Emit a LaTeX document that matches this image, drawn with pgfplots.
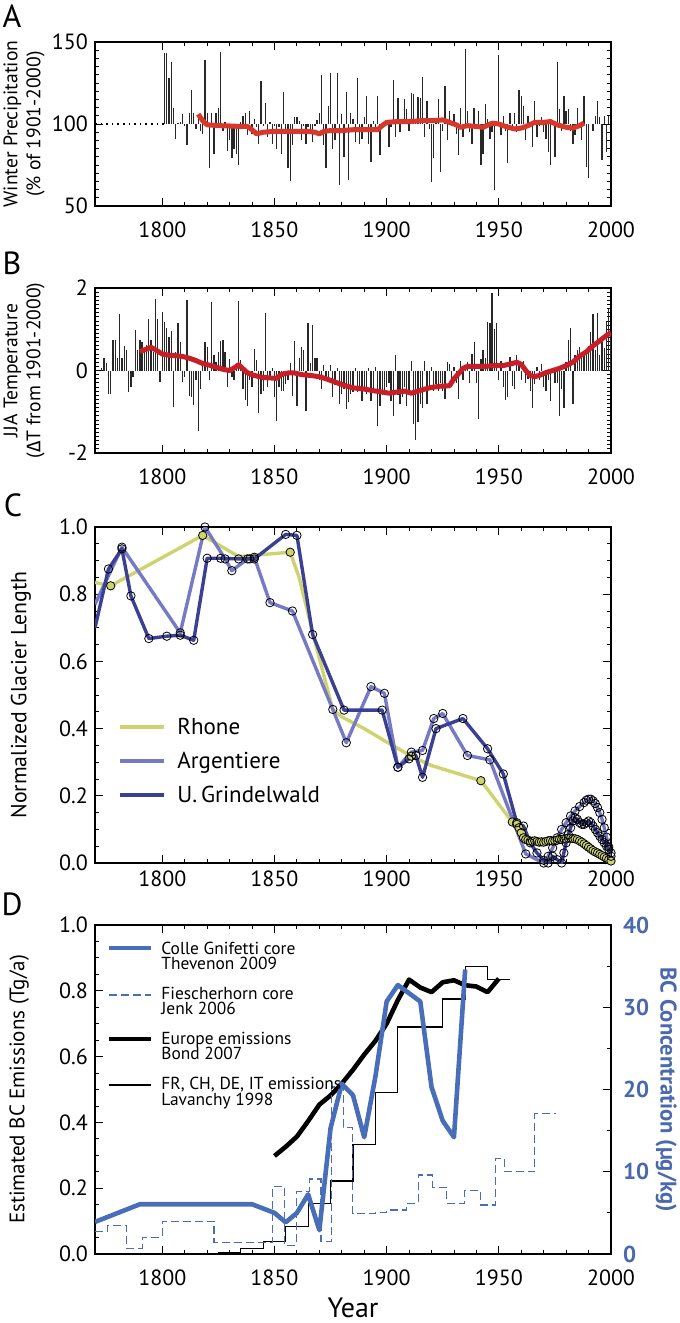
\documentclass[border=0pt]{standalone}
\usepackage{pgfplots}
\pgfplotsset{compat=1.18}
\usepackage{pgfplotstable}
\usepackage{fontspec}
\setmainfont{PT Sans}
\newfontfamily\fira{Fira Sans}

\definecolor{redA}{RGB}{216,56,44}
\definecolor{redB}{RGB}{200,30,40}
\definecolor{barc}{RGB}{40,40,40}
\definecolor{rhone}{RGB}{205,212,110}
\definecolor{argen}{RGB}{118,122,196}
\definecolor{grind}{RGB}{60,64,148}
\definecolor{bcblue}{RGB}{72,110,186}
\definecolor{axblue}{RGB}{74,104,176}

\pgfplotstableread{
yr p
1801 143
1802 143.5
1803 128
1804 137.8
1805 110
1806 91
1807 100.5
1808 101
1809 106
1810 99
1811 87
1812 107
1813 121
1814 107
1815 97
1816 105
1817 96
1818 94
1819 139
1820 107
1821 73
1822 107
1823 82
1824 107
1825 110
1826 144
1827 96
1828 101
1829 83.5
1830 90
1831 79
1832 85
1833 82
1834 75
1835 101
1836 105
1837 107
1838 93
1839 108
1840 94
1841 103
1842 98
1843 88
1844 126
1845 99
1846 113
1847 92
1848 101
1849 88
1850 99
1851 85
1852 98
1853 82
1854 119.5
1855 97
1856 73
1857 65
1858 87
1859 104
1860 104
1861 102
1862 90
1863 99
1864 88
1865 98
1866 97
1867 89
1868 99
1869 102.6
1870 107
1871 130
1872 87
1873 73
1874 111
1875 131
1876 85
1877 90
1878 131
1879 63
1880 106
1881 80
1882 119.5
1883 66
1884 107
1885 103
1886 89
1887 128
1888 88
1889 91
1890 104
1891 117
1892 88
1893 77
1894 102
1895 97
1896 117
1897 81
1898 100
1899 99
1900 101
1901 86
1902 98
1903 127
1904 92
1905 116
1906 95
1907 103
1908 115
1909 109
1910 96
1911 119
1912 118
1913 103
1914 116.5
1915 115.6
1916 128.7
1917 92
1918 114
1919 97
1920 64.6
1921 79
1922 103
1923 115
1924 71
1925 96
1926 123
1927 90
1928 108
1929 99
1930 106
1931 94
1932 81
1933 110
1934 92
1935 146
1936 108
1937 95
1938 88
1939 110
1940 97
1941 108
1942 75
1943 82
1944 112
1945 103
1946 91
1947 95
1948 59.6
1949 99
1950 142
1951 93
1952 105
1953 96
1954 76
1955 107
1956 97
1957 107
1958 95
1959 120.5
1960 117
1961 111
1962 90
1963 105
1964 98
1965 86
1966 114
1967 92
1968 99
1969 104
1970 95
1971 91
1972 83
1973 75
1974 102
1975 80
1976 138
1977 109
1978 96
1979 117
1980 108
1981 109
1982 96
1983 88
1984 93.5
1985 110
1986 99
1987 90
1988 117
1989 74
1990 67
1991 100
1992 96
1993 105
1994 114
1995 104
1996 78
1997 105
1998 83
1999 105
}\precip

\pgfplotstableread{
yr v
1816 106
1818 102
1820 99.5
1825 99
1830 98.8
1835 98.5
1838 98.5
1840 96.5
1842 94
1845 95
1850 95.5
1855 95.5
1860 95.5
1865 95.5
1868 95
1870 94
1872 95.5
1875 96
1880 96
1885 96.5
1890 96.5
1896 96.5
1898 99
1900 101
1905 101.5
1910 101.5
1915 102
1920 102
1925 102.5
1928 101
1931 99.5
1933 98
1936 99
1940 98.5
1943 98
1947 100.5
1950 100
1953 98.5
1957 97
1960 97.5
1963 99
1966 101
1970 101
1973 101.5
1976 99.5
1980 98
1983 97.5
1986 99
1988 100.5
}\precipred

\pgfplotstableread{
yr t
1773 0.05
1774 0.3
1775 0.17
1776 -0.57
1777 -0.57
1778 0.73
1779 0.73
1780 0.3
1781 1.37
1782 0.3
1783 0.6
1784 0.5
1785 -0.51
1786 -0.39
1787 -0.16
1788 0.97
1789 0.5
1790 0.75
1791 0.68
1792 0.54
1793 0.62
1794 1.24
1795 0.75
1796 0.44
1797 1.74
1798 1.24
1799 -0.28
1800 1.41
1801 1.18
1802 1.04
1803 0.81
1804 0.95
1805 -0.88
1806 0.44
1807 1.16
1808 0.68
1809 -0.28
1810 -0.16
1811 1.7
1812 -0.61
1813 -0.65
1814 -0.83
1815 -0.24
1816 -1.47
1817 -0.44
1818 0.17
1819 0.68
1820 0.58
1821 -0.24
1822 1.65
1823 0.38
1824 0.21
1825 0.46
1826 0.71
1827 0.73
1828 0.46
1829 -0.39
1830 0.27
1831 -0.16
1832 -0.24
1833 0.1
1834 1.68
1835 0.25
1836 -0.44
1837 -0.71
1838 -0.86
1839 -0.24
1840 -0.4
1841 0.52
1842 0.25
1843 -1.02
1844 -0.57
1845 -0.49
1846 1.39
1847 -0.39
1848 -0.24
1849 0.05
1850 -0.65
1851 -1.23
1852 -0.4
1853 -0.49
1854 -0.49
1855 -0.32
1856 -0.24
1857 0.17
1858 -0.61
1859 0.71
1860 -0.86
1861 0.3
1862 0.58
1863 0.5
1864 -0.98
1865 1.16
1866 0.17
1867 1.1
1868 0.3
1869 0.3
1870 -0.24
1871 -0.44
1872 0.13
1873 -0.16
1874 -0.24
1875 0.13
1876 -0.65
1877 -0.36
1878 0.05
1879 -0.81
1880 -0.57
1881 -0.44
1882 -0.94
1883 -0.77
1884 -0.57
1885 -0.53
1886 0.05
1887 -0.53
1888 -0.44
1889 -0.73
1890 -0.4
1891 -0.57
1892 0.05
1893 -0.73
1894 -0.53
1895 0.09
1896 -1.35
1897 -0.85
1898 -0.6
1899 -0.5
1900 -0.4
1901 -0.3
1902 -0.75
1903 -1.1
1904 0.37
1905 -0.6
1906 -0.8
1907 -0.65
1908 -0.4
1909 -0.85
1910 -0.5
1911 0.24
1912 -1.3
1913 -1.69
1914 -1.26
1915 -0.81
1916 -0.9
1917 0.24
1918 -0.81
1919 -0.4
1920 0.08
1921 -0.49
1922 -0.33
1923 -0.49
1924 -0.3
1925 -0.5
1926 -0.69
1927 0.2
1928 0.16
1929 -0.41
1930 0.08
1931 -0.3
1932 -0.69
1933 0.24
1934 -0.24
1935 0.12
1936 0.2
1937 -0.3
1938 0.4
1939 0.69
1940 -0.3
1941 -1.18
1942 0.28
1943 0.49
1944 0.3
1945 1.18
1946 1.15
1947 1.89
1948 1.0
1949 1.14
1950 -0.24
1951 0.24
1952 -0.41
1953 -0.72
1954 -0.65
1955 0.33
1956 -0.37
1957 -0.45
1958 0.37
1959 0.2
1960 -0.24
1961 0.24
1962 -0.3
1963 -0.2
1964 -0.5
1965 -0.91
1966 -0.33
1967 0.08
1968 -0.24
1969 0.16
1970 -0.41
1971 -0.49
1972 -0.24
1973 -0.73
1974 0.04
1975 -0.3
1976 -0.3
1977 -1.1
1978 -0.45
1979 -0.9
1980 0.2
1981 0.73
1982 1.04
1983 -0.81
1984 0.37
1985 0.49
1986 0.57
1987 0.41
1988 0.45
1989 0.41
1990 0.6
1991 0.93
1992 1.38
1993 0.5
1994 1.4
1995 0.37
1996 0.69
1997 0.55
1998 1.2
1999 1.5
2000 0.9
}\temp

\pgfplotstableread{
yr v
1790 0.46
1793 0.52
1795 0.56
1797 0.5
1800 0.4
1803 0.37
1806 0.36
1809 0.34
1812 0.3
1815 0.24
1818 0.17
1821 0.13
1824 0.08
1827 0.03
1830 0.0
1832 0.06
1834 0.14
1836 0.04
1838 -0.06
1841 -0.12
1845 -0.17
1848 -0.18
1851 -0.19
1853 -0.1
1856 -0.06
1859 -0.06
1862 -0.1
1866 -0.12
1870 -0.15
1873 -0.2
1877 -0.28
1881 -0.36
1885 -0.42
1890 -0.45
1894 -0.49
1898 -0.52
1901 -0.55
1905 -0.52
1908 -0.5
1911 -0.55
1914 -0.5
1917 -0.45
1920 -0.41
1924 -0.38
1928 -0.37
1930 -0.2
1932 -0.08
1934 0.05
1936 0.1
1940 0.1
1944 0.1
1948 0.12
1952 0.12
1956 0.17
1958 0.2
1960 0.15
1962 0.0
1964 -0.12
1966 -0.15
1968 -0.12
1971 -0.05
1974 0.0
1977 0.05
1980 0.12
1983 0.2
1986 0.35
1989 0.45
1992 0.6
1995 0.72
1998 0.85
2000 0.92
}\tempred

\pgfplotstableread{
yr v
1770 0.835
1777 0.825
1818 0.975
1834 0.912
1857 0.925
1861 0.85
1868 0.66
1876 0.457
1880 0.435
1890 0.40
1900 0.36
1911 0.318
1920 0.29
1942 0.245
1956 0.122
1958 0.115
1959 0.105
1960 0.09
1961 0.075
1962 0.07
1963 0.068
1964 0.065
1965 0.065
1966 0.066
1967 0.064
1968 0.062
1969 0.063
1970 0.062
1971 0.064
1972 0.066
1973 0.067
1974 0.065
1975 0.066
1976 0.068
1977 0.07
1978 0.07
1979 0.072
1980 0.072
1981 0.074
1982 0.074
1983 0.073
1984 0.072
1985 0.07
1986 0.066
1987 0.062
1988 0.057
1989 0.052
1990 0.047
1991 0.042
1992 0.037
1993 0.033
1994 0.03
1995 0.026
1996 0.022
1997 0.018
1998 0.014
1999 0.01
2000 0.006
}\rhoneT

\pgfplotstableread{
yr v
1777 0.825
1818 0.975
1857 0.925
1911 0.318
1942 0.245
1956 0.122
1958 0.115
1959 0.105
1960 0.09
1961 0.075
1962 0.07
1963 0.068
1964 0.065
1965 0.065
1966 0.066
1967 0.064
1968 0.062
1969 0.063
1970 0.062
1971 0.064
1972 0.066
1973 0.067
1974 0.065
1975 0.066
1976 0.068
1977 0.07
1978 0.07
1979 0.072
1980 0.072
1981 0.074
1982 0.074
1983 0.073
1984 0.072
1985 0.07
1986 0.066
1987 0.062
1988 0.057
1989 0.052
1990 0.047
1991 0.042
1992 0.037
1993 0.033
1994 0.03
1995 0.026
1996 0.022
1997 0.018
1998 0.014
1999 0.01
2000 0.006
}\rhoneM

\pgfplotstableread{
yr v
1770 0.77
1782 0.94
1808 0.685
1819 1.0
1828 0.905
1831 0.87
1838 0.905
1841 0.91
1848 0.775
1858 0.75
1876 0.457
1882 0.358
1893 0.525
1899 0.505
1905 0.285
1911 0.33
1916 0.335
1921 0.43
1925 0.445
1936 0.32
1946 0.307
1962 0.027
1970 0.0
1972 0.02
1974 0.045
1976 0.075
1978 0.1
1980 0.12
1982 0.14
1984 0.155
1986 0.168
1988 0.18
1989 0.187
1990 0.19
1991 0.19
1992 0.185
1993 0.177
1994 0.165
1995 0.15
1996 0.13
1997 0.105
1998 0.077
1999 0.048
2000 0.02
}\argT

\pgfplotstableread{
yr v
1770 0.70
1776 0.875
1782 0.935
1786 0.795
1794 0.668
1802 0.675
1808 0.678
1814 0.663
1820 0.907
1826 0.907
1834 0.905
1839 0.905
1841 0.905
1855 0.978
1860 0.975
1867 0.68
1881 0.455
1898 0.455
1905 0.285
1910 0.31
1913 0.32
1916 0.255
1922 0.40
1934 0.43
1945 0.34
1952 0.265
1958 0.12
1961 0.11
1964 0.06
1967 0.03
1970 0.008
1972 0.0
1974 0.02
1976 0.01
1978 0.0
1979 0.03
1980 0.06
1981 0.085
1982 0.105
1983 0.125
1984 0.135
1985 0.13
1986 0.12
1987 0.115
1988 0.115
1989 0.12
1990 0.125
1991 0.12
1992 0.11
1993 0.1
1994 0.09
1995 0.08
1996 0.07
1997 0.06
1998 0.05
1999 0.04
2000 0.03
}\grindT

\pgfplotstableread{
yr c
1770 3.9
1790 6.05
1840 6.05
1850 5.0
1855 3.85
1860 5.0
1865 7.25
1870 2.9
1875 15.3
1880 20.7
1885 19.3
1890 14.2
1895 21.6
1900 30.7
1905 32.7
1910 31.7
1915 30.7
1920 20.3
1925 16.2
1930 14.2
1935 34.6
}\cg

\pgfplotstableread{
yr c
1770 2.72
1775.5 3.44
1784.2 0.68
1791 2.04
1800 4.0
1823 1.4
1849 8.2
1854.3 1.08
1859.7 7.6
1865.5 9.12
1870.7 1.48
1875.5 20.3
1880.6 15.4
1884.8 4.96
1895 5.08
1900 5.36
1909 6.16
1914.2 9.6
1920.6 8.08
1926.8 6.16
1934.7 7.72
1941.9 5.96
1948.6 11.6
1952.5 10.0
1966 17.1
1975.3 17.1
}\fiesch

\pgfplotstableread{
yr e
1850 0.298
1855 0.326
1860 0.357
1865 0.404
1870 0.454
1875 0.482
1880 0.518
1885 0.56
1890 0.606
1895 0.648
1900 0.70
1905 0.772
1910 0.834
1915 0.81
1920 0.796
1925 0.826
1930 0.832
1935 0.817
1940 0.813
1945 0.796
1950 0.837
}\bond

\pgfplotstableread{
yr e
1815 0.0
1825 0.005
1835 0.017
1845 0.038
1855 0.083
1865 0.153
1875 0.222
1885 0.332
1895 0.49
1905 0.69
1925 0.775
1935 0.875
1945 0.835
1955 0.835
}\lav

\pgfplotsset{
  panel/.style={
    scale only axis, width=258pt, anchor=south west,
    xmin=1770, xmax=2000,
    xtick={1800,1850,1900,1950,2000},
    minor x tick num=4,
    tick align=inside,
    major tick length=4pt, minor tick length=2pt,
    axis line style={line width=0.6pt},
    every tick/.append style={line width=0.45pt, black},
    tick label style={font=\fontsize{11}{13}\selectfont},
    /pgf/number format/assume math mode=true,
    /pgf/number format/1000 sep={},
    ylabel style={anchor=center, align=center, font=\fontsize{9.8}{11.5}\selectfont},
  }
}

\begin{document}
\begin{tikzpicture}
\useasboundingbox (0,0) rectangle (340pt,-661.5pt);

% ---------- A ----------
\begin{axis}[panel, at={(47.5pt,-103pt)}, height=82pt,
  ymin=50, ymax=150, ytick={50,100,150}, minor y tick num=9,
  xticklabel style={yshift=-4.5pt},
  ylabel={Winter Precipitation\\(\% of 1901-2000)},
  ylabel style={at={(axis description cs:-0.1376,0.5)}}]
\addplot[black, dotted, line width=0.8pt] coordinates {(1770,100) (1801,100)};
\addplot[barc, line width=0.65pt, quiver={u=0, v=\thisrow{p}-100}] table[x=yr, y expr=100] {\precip};
\addplot[redA, line width=2.5pt, line join=round] table[x=yr, y=v] {\precipred};
\end{axis}

% ---------- B ----------
\begin{axis}[panel, at={(47.5pt,-226.5pt)}, height=82.5pt,
  ymin=-2, ymax=2, ytick={-2,0,2}, minor y tick num=19,
  xticklabel style={yshift=-4.5pt},
  ylabel={JJA Temperature\\({\fira Δ}T from 1901-2000)},
  ylabel style={at={(axis description cs:-0.1376,0.5)}}]
\addplot[barc, line width=0.65pt, quiver={u=0, v=\thisrow{t}}] table[x=yr, y expr=0] {\temp};
\addplot[redB, line width=2.5pt, line join=round] table[x=yr, y=v] {\tempred};
\end{axis}

% ---------- C ----------
\begin{axis}[panel, at={(47.5pt,-431.5pt)}, height=168pt,
  ymin=0, ymax=1, ytick={0,0.2,0.4,0.6,0.8,1.0}, minor y tick num=3,
  yticklabel style={/pgf/number format/.cd, fixed, fixed zerofill, precision=1},
  xticklabel style={yshift=-0.5pt},
  ylabel={Normalized Glacier Length},
  ylabel style={font=\fontsize{10.9}{13}\selectfont, at={(axis description cs:-0.1434,0.5)}}]
\addplot[rhone, line width=1.7pt, line join=round] table[x=yr, y=v] {\rhoneT};
\addplot[argen, line width=1.7pt, line join=round] table[x=yr, y=v] {\argT};
\addplot[grind, line width=1.7pt, line join=round] table[x=yr, y=v] {\grindT};
\addplot[only marks, mark=*, mark size=2.1pt, mark options={draw=black, fill=rhone, line width=0.4pt}] table[x=yr, y=v] {\rhoneM};
\addplot[only marks, mark=o, mark size=2.1pt, mark options={draw=black, line width=0.4pt}, restrict x to domain=1771:2001] table[x=yr, y=v] {\argT};
\addplot[only marks, mark=o, mark size=2.1pt, mark options={draw=black, line width=0.4pt}, restrict x to domain=1771:2001] table[x=yr, y=v] {\grindT};
\end{axis}

% ---------- D ----------
\begin{axis}[panel, at={(47.5pt,-627pt)}, height=164.5pt,
  ymin=0, ymax=1, ytick={0,0.2,0.4,0.6,0.8,1.0}, minor y tick num=3,
  ytick pos=left,
  yticklabel style={/pgf/number format/.cd, fixed, fixed zerofill, precision=1},
  xticklabel style={yshift=-4.5pt},
  ylabel={Estimated BC Emissions (Tg/a)},
  ylabel style={font=\fontsize{10.5}{12}\selectfont, at={(axis description cs:-0.147,0.5)}},
  xlabel={Year},
  xlabel style={font=\fontsize{14}{16}\selectfont, at={(axis description cs:0.5,-0.164)}, anchor=center}]
\addplot[black, line width=0.55pt, const plot] table[x=yr, y=e] {\lav};
\addplot[black, line width=2.3pt, line join=round] table[x=yr, y=e] {\bond};
\end{axis}
\begin{axis}[panel, at={(47.5pt,-627pt)}, height=164.5pt,
  axis y line*=right, axis x line=none,
  ymin=0, ymax=40, ytick={0,10,20,30,40}, minor y tick num=1,
  yticklabel style={text=axblue, font=\bfseries\fontsize{11.5}{13}\selectfont, xshift=2.5pt},
  ylabel={BC Concentration (µg/kg)},
  ylabel style={text=axblue, inner sep=0pt, font=\bfseries\fontsize{11.3}{13}\selectfont, at={(axis description cs:1.107,0.5)}, rotate=180}]
\addplot[bcblue, line width=0.6pt, dash pattern=on 4pt off 2pt, const plot] table[x=yr, y=c] {\fiesch};
\addplot[bcblue, line width=2.3pt, line join=round] table[x=yr, y=c] {\cg};
\end{axis}

% panel letters
\node[font=\fontsize{16}{18}\selectfont] at (6pt,-8pt) {A};
\node[font=\fontsize{16}{18}\selectfont] at (6pt,-131.5pt) {B};
\node[font=\fontsize{16}{18}\selectfont] at (6.5pt,-252.5pt) {C};
\node[font=\fontsize{16}{18}\selectfont] at (6pt,-452pt) {D};

% legend C
\begin{scope}[every node/.style={anchor=base west, inner sep=0pt, font=\fontsize{11.5}{13}\selectfont}]
\draw[rhone, line width=2pt] (60pt,-363.5pt) -- (82pt,-363.5pt);
\node at (88.5pt,-367pt) {Rhone};
\draw[argen, line width=2pt] (60pt,-380.5pt) -- (82pt,-380.5pt);
\node at (88.5pt,-384pt) {Argentiere};
\draw[grind, line width=2pt] (60pt,-397.5pt) -- (82pt,-397.5pt);
\node at (88.5pt,-401pt) {U.\,Grindelwald};
\end{scope}

% legend D
\begin{scope}[every node/.style={anchor=base west, inner sep=0pt, font=\fontsize{8.7}{10}\selectfont}]
\draw[bcblue, line width=2.3pt] (54.5pt,-474pt) -- (75.5pt,-474pt);
\node at (80.5pt,-477pt) {Colle Gnifetti core};
\node at (80.5pt,-484.5pt) {Thevenon 2009};
\draw[bcblue, line width=0.6pt, dash pattern=on 4pt off 2pt] (54.5pt,-497.5pt) -- (75.5pt,-497.5pt);
\node at (80.5pt,-499.5pt) {Fiescherhorn core};
\node at (80.5pt,-507pt) {Jenk 2006};
\draw[black, line width=2.3pt] (54.5pt,-519.5pt) -- (75.5pt,-519.5pt);
\node at (80.5pt,-522pt) {Europe emissions};
\node at (80.5pt,-529.5pt) {Bond 2007};
\draw[black, line width=0.55pt] (54.5pt,-542.5pt) -- (75.5pt,-542.5pt);
\node at (80.5pt,-544.5pt) {FR, CH, DE, IT emissions};
\node at (80.5pt,-552.5pt) {Lavanchy 1998};
\end{scope}
\end{tikzpicture}
\end{document}
